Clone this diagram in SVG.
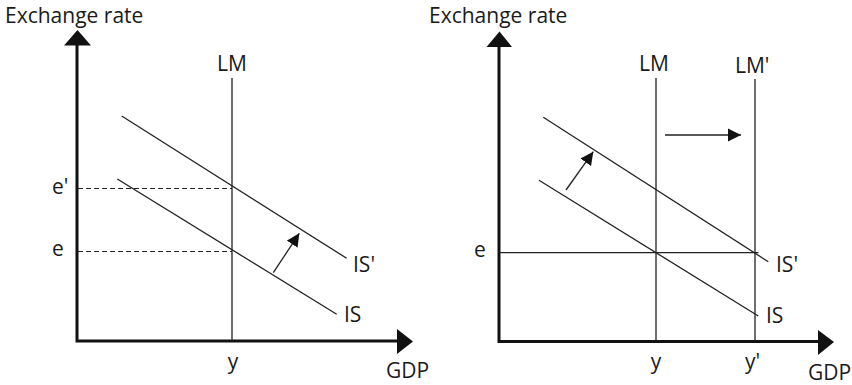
<svg xmlns="http://www.w3.org/2000/svg" width="852" height="385" viewBox="0 0 852 385">
<defs>
<style>
.t{font-family:"Open Sans","Liberation Sans",sans-serif;font-size:21px;fill:#1a1a1a}
.ax{stroke:#111;stroke-width:3;fill:none}
.ln{stroke:#222;stroke-width:1.3;fill:none}
.dash{stroke:#222;stroke-width:1.2;stroke-dasharray:5 3;fill:none}
.head{fill:#111}
</style>
<marker id="ahs" viewBox="0 0 10 10" refX="10" refY="5" markerWidth="13" markerHeight="14" markerUnits="userSpaceOnUse" orient="auto">
<path d="M0,0 L10,5 L0,10 Z" fill="#111"/>
</marker>
</defs>
<rect width="852" height="385" fill="#fff"/>

<!-- Left panel -->
<g id="left-axes">
<polyline class="ax" points="77,44 77,341 398,341"/>
<polygon class="head" points="77.5,30 64,45.5 91,45.5"/>
<polygon class="head" points="413,341.5 397,329 397,354"/>
<text class="t" x="5" y="23">Exchange rate</text>
<text class="t" x="386" y="378">GDP</text>
</g>
<g id="left-LM">
<line class="ln" x1="232" y1="78" x2="232" y2="341"/>
<text class="t" x="232" y="71" text-anchor="middle">LM</text>
<text class="t" x="233" y="369" text-anchor="middle">y</text>
</g>
<g id="left-IS">
<line class="ln" x1="117.3" y1="179" x2="336.7" y2="314.3"/>
<text class="t" x="344" y="322">IS</text>
</g>
<g id="left-ISp">
<line class="ln" x1="121.7" y1="116" x2="346.7" y2="258.3"/>
<text class="t" x="353" y="272">IS'</text>
</g>
<g id="left-levels">
<line class="dash" x1="78" y1="188.5" x2="232" y2="188.5"/>
<line class="dash" x1="78" y1="251.5" x2="232" y2="251.5"/>
<text class="t" x="52" y="194">e'</text>
<text class="t" x="52" y="256">e</text>
</g>

<!-- Right panel -->
<g id="right-axes">
<polyline class="ax" points="499,45 499,341.5 819,341.5"/>
<polygon class="head" points="499.5,31.5 486.5,47 512,47"/>
<polygon class="head" points="834,342 818,330 818,355"/>
<text class="t" x="429" y="23">Exchange rate</text>
<text class="t" x="808" y="380">GDP</text>
</g>
<g id="right-LM">
<line class="ln" x1="656" y1="78" x2="656" y2="341"/>
<text class="t" x="654" y="71" text-anchor="middle">LM</text>
<text class="t" x="656" y="369" text-anchor="middle">y</text>
</g>
<g id="right-LMp">
<line class="ln" x1="755" y1="79" x2="755" y2="341"/>
<text class="t" x="735" y="73">LM'</text>
<text class="t" x="745" y="369">y'</text>
</g>
<g id="right-IS">
<line class="ln" x1="539" y1="180.3" x2="758.3" y2="316"/>
<text class="t" x="766" y="323">IS</text>
</g>
<g id="right-ISp">
<line class="ln" x1="543.3" y1="117.3" x2="768.3" y2="261.7"/>
<text class="t" x="776" y="272">IS'</text>
</g>
<g id="right-level">
<line class="ln" x1="499" y1="252.7" x2="758.5" y2="252.7"/>
<text class="t" x="474" y="257">e</text>
</g>

<g id="connectors">
<line class="ln" x1="273.3" y1="272.7" x2="299.3" y2="233.3" marker-end="url(#ahs)"/>
<line class="ln" x1="566" y1="190" x2="593.3" y2="151.7" marker-end="url(#ahs)"/>
<line class="ln" x1="665" y1="135" x2="741" y2="135" marker-end="url(#ahs)"/>
</g>
</svg>
